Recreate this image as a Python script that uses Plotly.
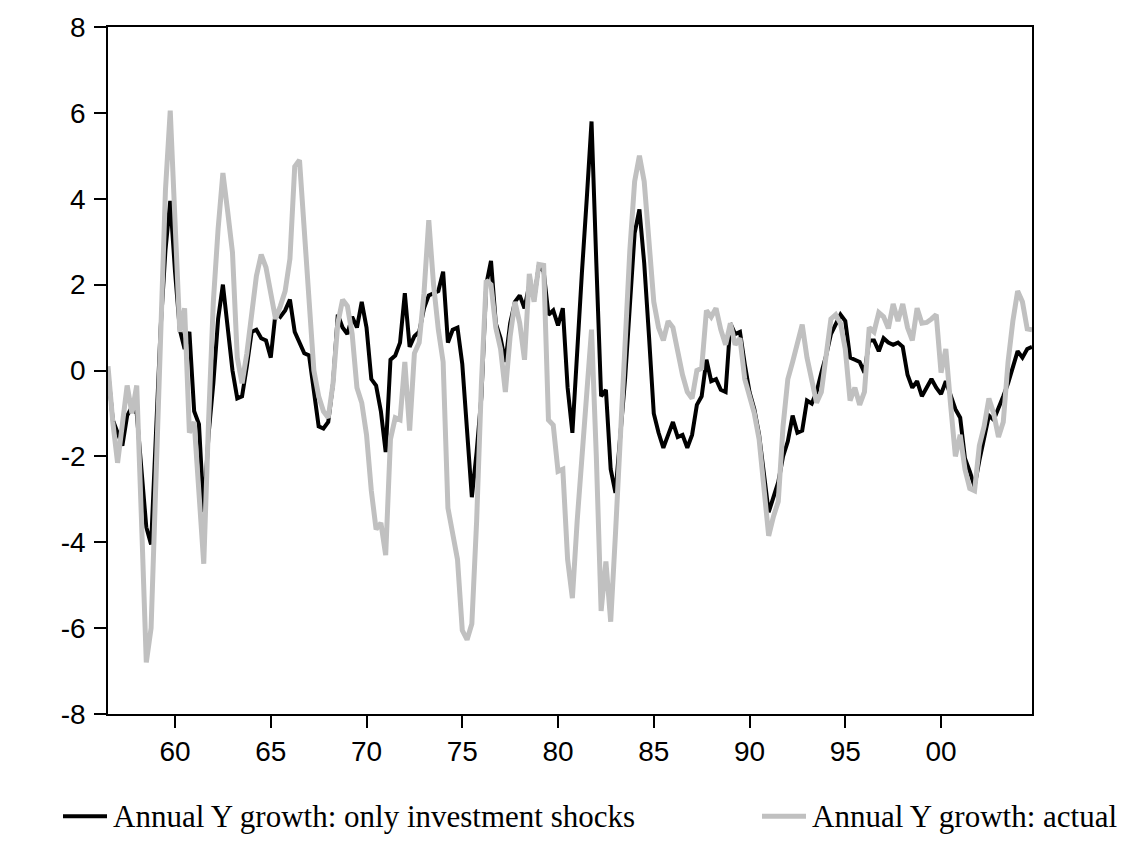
import plotly.graph_objects as go

# Quarterly sample 1956Q3 - 2004Q4
start_year, start_q = 1956, 3

# Annual output growth, model with only investment shocks
y_invest = [
    0.0, -1.15, -1.45, -1.75, -1.05, -0.85, -1.0, -2.3, -3.65, -4.05,
    -1.6, 1.0, 2.8, 3.95, 2.3, 0.95, 0.5, 0.9, -0.95, -1.25,
    -3.3, -1.5, -0.3, 1.2, 2.0, 1.0, 0.0, -0.65, -0.6, 0.1,
    0.9, 0.95, 0.75, 0.7, 0.3, 1.35, 1.25, 1.4, 1.65, 0.9,
    0.65, 0.4, 0.35, -0.5, -1.3, -1.35, -1.2, -0.3, 1.3, 1.0,
    0.85, 1.25, 1.0, 1.6, 1.0, -0.2, -0.35, -0.95, -1.9, 0.25,
    0.35, 0.65, 1.8, 0.55, 0.8, 0.9, 1.45, 1.75, 1.8, 1.85,
    2.3, 0.65, 0.95, 1.0, 0.15, -1.5, -2.95, -1.9, -0.6, 2.0,
    2.55, 1.1, 0.75, 0.2, 1.1, 1.6, 1.75, 1.45, 2.0, 1.65,
    2.45, 2.3, 1.3, 1.4, 1.05, 1.45, -0.4, -1.45, 0.6, 2.3,
    4.0, 5.8, 2.5, -0.6, -0.45, -2.3, -2.85, -1.6, -0.2, 1.5,
    3.2, 3.75, 2.5, 0.8, -1.0, -1.45, -1.8, -1.5, -1.2, -1.55,
    -1.5, -1.8, -1.5, -0.8, -0.6, 0.25, -0.25, -0.2, -0.45, -0.5,
    1.1, 0.85, 0.9, 0.15, -0.5, -0.9, -1.5, -2.4, -3.3, -2.95,
    -2.6, -2.0, -1.65, -1.05, -1.45, -1.4, -0.7, -0.77, -0.5, -0.05,
    0.35, 0.85, 1.1, 1.3, 1.15, 0.3, 0.25, 0.2, -0.05, 0.7,
    0.7, 0.45, 0.75, 0.65, 0.6, 0.65, 0.55, -0.1, -0.4, -0.25,
    -0.6, -0.4, -0.2, -0.4, -0.55, -0.25, -0.55, -0.9, -1.1, -2.05,
    -2.35, -2.7, -2.1, -1.6, -1.05, -1.15, -0.9, -0.6, -0.3, 0.05,
    0.45, 0.3, 0.5, 0.55,
]

# Annual output growth, actual
y_actual = [
    0.1, -1.2, -2.15, -1.2, -0.35, -1.0, -0.35, -3.5, -6.8, -6.0,
    -2.5, 1.2, 4.2, 6.05, 3.2, 0.9, 1.45, -1.45, -1.2, -2.8,
    -4.5, -1.2, 1.6, 3.3, 4.6, 3.7, 2.75, 0.3, -0.3, 0.4,
    1.4, 2.2, 2.7, 2.4, 1.8, 1.2, 1.5, 1.85, 2.6, 4.75,
    4.9, 3.3, 1.4, 0.0, -0.6, -0.95, -1.1, -0.3, 1.1, 1.65,
    1.5, 0.85, -0.4, -0.75, -1.5, -2.8, -3.7, -3.55, -4.3, -1.6,
    -1.1, -1.15, 0.2, -1.4, 0.4, 0.65, 1.8, 3.5, 2.0, 0.95,
    0.2, -3.2, -3.8, -4.4, -6.05, -6.27, -5.9, -3.5, -0.3, 2.1,
    2.0, 1.0, 0.5, -0.5, 0.8, 1.6, 1.1, 0.25, 2.25, 1.6,
    2.47, 2.45, -1.15, -1.27, -2.35, -2.3, -4.4, -5.3, -3.5, -2.0,
    -0.5, 0.95, -2.0, -5.6, -4.45, -5.85, -3.8, -1.6, 0.5, 2.8,
    4.4, 5.0, 4.4, 2.8, 1.6, 1.0, 0.7, 1.15, 1.0, 0.45,
    -0.1, -0.5, -0.65, 0.0, 0.05, 1.4, 1.25, 1.45, 0.95, 0.6,
    1.1, 0.6, 0.75, -0.2, -0.6, -1.0, -1.6, -2.8, -3.85, -3.4,
    -3.05, -1.3, -0.2, 0.2, 0.7, 1.07, 0.3, -0.2, -0.75, -0.5,
    0.4, 1.2, 1.3, 1.1, 0.5, -0.7, -0.4, -0.8, -0.5, 1.0,
    0.9, 1.35, 1.25, 0.98, 1.55, 1.15, 1.55, 1.0, 0.7, 1.45,
    1.1, 1.12, 1.2, 1.3, -0.05, 0.5, -0.8, -2.0, -1.5, -2.3,
    -2.75, -2.8, -1.75, -1.3, -0.65, -1.0, -1.55, -1.2, 0.2, 1.15,
    1.85, 1.6, 0.97, 0.95,
]

tick_years = [1960, 1965, 1970, 1975, 1980, 1985, 1990, 1995, 2000]
tick_text = ["60", "65", "70", "75", "80", "85", "90", "95", "00"]
y_ticks = [-8, -6, -4, -2, 0, 2, 4, 6, 8]
y_tick_text = ["-8", "-6", "-4", "-2", "0", "2", "4", "6", "8"]

series_names = ["Annual Y growth: only investment shocks", "Annual Y growth: actual"]
series_colors = ["#000000", "#c0c0c0"]
series_widths = [4.0, 5.0]

# Decimal-year position of each quarter
n = len(y_actual)
x = [start_year + (start_q - 1 + k) / 4.0 for k in range(n)]

W, H = 1141, 863
L, R, T, B = 108, 109, 22, 149

fig = go.Figure()
for vals, name, col, lw in zip([y_invest, y_actual], series_names, series_colors, series_widths):
    fig.add_trace(go.Scatter(x=x, y=vals, mode="lines", name=name,
                             line=dict(color=col, width=lw), showlegend=False))

axis_font = dict(family="Liberation Sans, Arial, sans-serif", size=28, color="#000000")
fig.update_xaxes(range=[x[0], x[-1]], tickvals=tick_years, ticktext=tick_text,
                 ticks="outside", ticklen=12, tickwidth=1.5, tickcolor="#000000",
                 showline=True, linewidth=1.5, linecolor="#000000", mirror=True,
                 showgrid=False, zeroline=False, tickfont=axis_font)
fig.update_yaxes(range=[-8, 8], tickvals=y_ticks, ticktext=y_tick_text,
                 ticks="outside", ticklen=12, ticklabelstandoff=3,
                 tickwidth=1.5, tickcolor="#000000",
                 showline=True, linewidth=1.5, linecolor="#000000", mirror=True,
                 showgrid=False, zeroline=False, tickfont=axis_font)

# Legend row below the plot, positioned in pixels and converted to paper coordinates
pw, ph = W - L - R, H - T - B
def px(xp):
    return (xp - L) / pw
def py(yp):
    return (H - B - yp) / ph

legend_y = 817
legend_items = [(63, 107), (762, 806)]
legend_font = dict(family="Liberation Serif, Times New Roman, serif", size=31, color="#000000")
for (x0, x1), name, col, lw in zip(legend_items, series_names, series_colors, series_widths):
    fig.add_shape(type="line", xref="paper", yref="paper",
                  x0=px(x0), x1=px(x1), y0=py(legend_y), y1=py(legend_y),
                  line=dict(color=col, width=lw))
    fig.add_annotation(xref="paper", yref="paper", x=px(x1 + 4), y=py(legend_y),
                       text=name, showarrow=False, xanchor="left", yanchor="middle",
                       font=legend_font)

fig.update_layout(width=W, height=H, margin=dict(l=L, r=R, t=T, b=B),
                  paper_bgcolor="#ffffff", plot_bgcolor="#ffffff")

fig.write_html("out.html")
